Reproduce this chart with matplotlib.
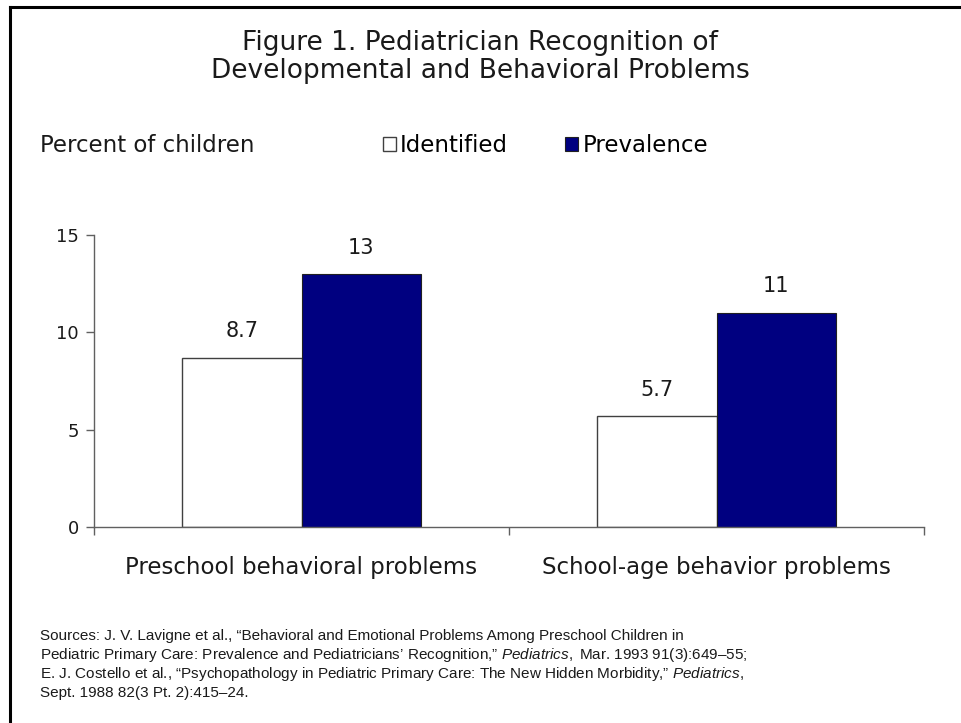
import numpy as np
import matplotlib
matplotlib.use("Agg")
import matplotlib.pyplot as plt
from matplotlib.lines import Line2D

plt.rcParams['font.family'] = ['DejaVu Sans']
plt.rcParams['mathtext.fontset'] = 'custom'
plt.rcParams['mathtext.it'] = 'Liberation Sans:italic'
plt.rcParams['mathtext.rm'] = 'Liberation Sans'

categories = ["Preschool behavioral problems", "School-age behavior problems"]
identified = [8.7, 5.7]
prevalence = [13, 11]
value_labels_id = ["8.7", "5.7"]
value_labels_prev = ["13", "11"]
yticks = [0, 5, 10, 15]

sources = [
    "Sources: J. V. Lavigne et al., \u201cBehavioral and Emotional Problems Among Preschool Children in",
    "Pediatric Primary Care: Prevalence and Pediatricians\u2019 Recognition,\u201d $\\mathit{Pediatrics,}$ Mar. 1993 91(3):649\u201355;",
    "E. J. Costello et al., \u201cPsychopathology in Pediatric Primary Care: The New Hidden Morbidity,\u201d $\\mathit{Pediatrics,}$",
    "Sept. 1988 82(3 Pt. 2):415\u201324.",
]

W, H = 961, 723
fig = plt.figure(figsize=(W / 100, H / 100), dpi=100)
ax = fig.add_axes([94 / W, 1 - 527 / H, 830 / W, 292 / H])

x = np.arange(len(categories))
bw = 0.287
b1 = ax.bar(x - bw / 2, identified, bw, color="white", edgecolor="#404040", linewidth=1.0,
            label="Identified")
b2 = ax.bar(x + bw / 2, prevalence, bw, color="#000080", edgecolor="#202020", linewidth=0.8,
            label="Prevalence")

for rect, lab in zip(b1, value_labels_id):
    ax.annotate(lab, (rect.get_x() + rect.get_width() / 2, rect.get_height()),
                xytext=(0, 19), textcoords="offset points", ha="center", va="center",
                fontsize=15, color="#1a1a1a")
for rect, lab in zip(b2, value_labels_prev):
    ax.annotate(lab, (rect.get_x() + rect.get_width() / 2, rect.get_height()),
                xytext=(0, 19), textcoords="offset points", ha="center", va="center",
                fontsize=15, color="#1a1a1a")

ax.set_xlim(-0.5, 1.5)
ax.set_ylim(0, 15)
ax.set_yticks(yticks)
ax.set_xticks(x)
ax.set_xticklabels(categories, fontsize=16.5, color="#1a1a1a")
ax.set_xticks([-0.5, 0.5, 1.5], minor=True)
ax.tick_params(axis="x", which="major", length=0, pad=21)
ax.tick_params(axis="x", which="minor", length=6, width=1, color="#606060", direction="out")
ax.tick_params(axis="y", length=6, width=1, color="#606060", direction="out",
               labelsize=13, labelcolor="#1a1a1a", pad=5)
for s in ["top", "right"]:
    ax.spines[s].set_visible(False)
for s in ["left", "bottom"]:
    ax.spines[s].set_color("#606060")
    ax.spines[s].set_linewidth(1)

fig.text(480 / W, 1 - 57 / H,
         "Figure 1. Pediatrician Recognition of\nDevelopmental and Behavioral Problems",
         ha="center", va="center", fontsize=19, linespacing=1.05, color="#1a1a1a")

fig.text(40 / W, 1 - 146 / H, "Percent of children", ha="left", va="center",
         fontsize=16.5, color="#1a1a1a")

fig.legend(handles=[b1, b2], labels=["Identified", "Prevalence"],
           loc="center left", bbox_to_anchor=(383 / W, 1 - 146 / H), ncol=2,
           frameon=False, handlelength=0.55, handleheight=0.55, handletextpad=0.2,
           columnspacing=2.5, fontsize=16.5, borderpad=0, borderaxespad=0)

for i, line in enumerate(sources):
    fig.text(40 / W, 1 - (636 + 19 * i) / H, line, ha="left", va="center",
             fontsize=11, family="Liberation Sans", color="#1a1a1a")

# frame lines on top and left
fig.add_artist(Line2D([10 / W, 10 / W], [0, 1 - 7 / H], transform=fig.transFigure,
                      color="black", linewidth=2.2, solid_capstyle="projecting"))
fig.add_artist(Line2D([10 / W, 1], [1 - 7 / H, 1 - 7 / H], transform=fig.transFigure,
                      color="black", linewidth=2.2, solid_capstyle="projecting"))

fig.savefig("out.png", dpi=100, facecolor="white")
